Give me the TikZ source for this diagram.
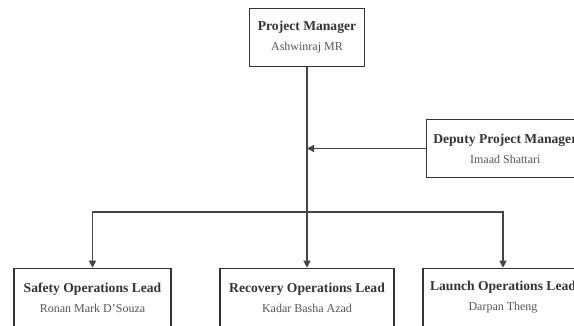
\documentclass[tikz,border=0pt]{standalone}
\usepackage{fontspec}
\setmainfont{Liberation Serif}
\usetikzlibrary{arrows.meta,positioning}

\definecolor{boxline}{HTML}{333333}
\definecolor{wire}{HTML}{444444}
\definecolor{titletext}{HTML}{333333}
\definecolor{nametext}{HTML}{555555}

\newcommand{\rolecard}[2]{{\fontsize{13.6}{15}\selectfont\bfseries\color{titletext}#1}\\[8pt]{\fontsize{12}{13}\selectfont\color{nametext}#2}}

\begin{document}
\begin{tikzpicture}[x=1pt, y=-1pt,
        role/.style={draw=boxline, line width=1.6pt, fill=white, align=center,
            minimum height=58pt, inner xsep=7pt, inner ysep=0pt},
        conn/.style={draw=wire, line width=1.4pt, -{Triangle[width=7pt,length=7pt]}}]
                \useasboundingbox (0, 0) rectangle (574, 326);
                % Nodes:
                \node[role, minimum width=115pt] (pm) at (307, 37.5) {\rolecard{Project Manager}{Ashwinraj MR}};
                \node[role, anchor=west] (dpm) at (425.5, 148.5) {\rolecard{Deputy Project Manager}{Imaad Shattari}};
                \node[role, minimum width=157pt] (safety) at (92.5, 297.5) {\rolecard{Safety Operations Lead}{Ronan Mark D'Souza}};
                \node[role, minimum width=174pt] (recovery) at (307, 297.5) {\rolecard{Recovery Operations Lead}{Kadar Basha Azad}};
                \node[role, minimum width=156pt] (launch) at (503, 297.5) {\rolecard{Launch Operations Lead}{Darpan Theng}};
                \coordinate (split) at (307, 212);
                % Wires:
                \draw[conn] (pm.south) -- (recovery.north);
                \draw[conn] (dpm.west) -- (dpm.west -| pm.south);
                \draw[conn] (split) -| (safety.north);
                \draw[conn] (split) -| (launch.north);
            \end{tikzpicture}
\end{document}
